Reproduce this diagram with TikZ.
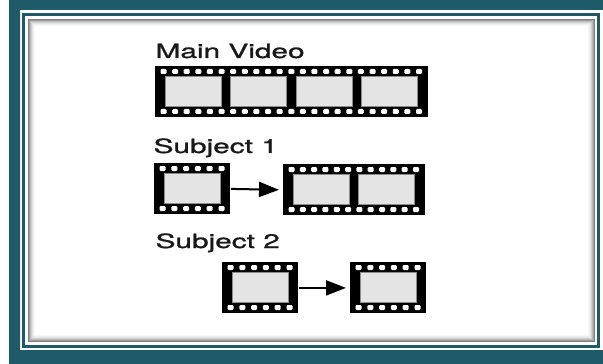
\documentclass[tikz,border=0pt]{standalone}
\usepackage{fontspec}
\setmainfont{TeX Gyre Heros}[AutoFakeBold=0.9]
\usetikzlibrary{calc,arrows.meta}

\definecolor{panelteal}{RGB}{31,90,105}
\definecolor{cellgray}{RGB}{228,228,228}

\tikzset{
  strip/.style={fill=black, inner sep=0pt, anchor=north west, minimum height=25.5pt},
  cell/.style={fill=cellgray, draw=black!45, line width=0.3pt},
  hole/.style={fill=white, rounded corners=0.6pt},
  caption/.style={font=\fontsize{9.8}{11}\selectfont\bfseries, text=black!90, anchor=base west, inner sep=0pt, xscale=1.52},
  link/.style={-{Triangle[length=10pt,width=7.5pt]}, line width=1pt, shorten >=2pt},
}

% film strip: name, number of frames, left x, top y
\newcommand{\filmstrip}[4]{%
  \pgfmathsetmacro{\filmw}{10.5+65.5*#2}
  \node[strip, minimum width=\filmw*0.5pt] (#1) at (#3,#4) {};
  % picture frames
  \foreach \k in {1,...,#2}
    \filldraw[cell] ($(#1.north west)+({10+65.5*(\k-1)},10.5)$) rectangle +(56,30);
  % sprocket holes
  \pgfmathsetmacro{\filmgaps}{int(round((\filmw-17)/11.6))}
  \pgfmathsetmacro{\filmstep}{(\filmw-17)/\filmgaps}
  \foreach \h in {0,...,\filmgaps} {
    \fill[hole] ($(#1.north west)+({5.5+\h*\filmstep},3)$) rectangle +(6,5);
    \fill[hole] ($(#1.north west)+({5.5+\h*\filmstep},43)$) rectangle +(6,5);
  }
}

\begin{document}
\begin{tikzpicture}[x=0.5pt,y=-0.5pt]
        \useasboundingbox (0,0) rectangle (603,363);
        \clip (0,0) rectangle (603,363);

        % outer band and thin line of the frame
        \fill[panelteal, even odd rule] (9,-10) rectangle (620,380) (20,10) rectangle (610,350);
        \draw[panelteal, line width=1.5pt] (23.5,14.5) rectangle (598.5,346.5);

        % inset shadow of the panel
        \foreach \i/\c in {0/50,1/38,2/27,3/18,4/11,5/6,6/3}
                \draw[black!\c, line width=0.5pt] (28.5+\i,19.5+\i) rectangle (594.5-\i,341.5-\i);

        % main video
        \node[caption] (main label) at (155,58) {Main Video};
        \filmstrip{main}{4}{155}{66}

        % subject 1
        \node[caption] (s1 label) at (153,153) {Subject 1};
        \filmstrip{s1a}{1}{154}{163}
        \filmstrip{s1b}{2}{283}{164}
        \draw[link] (s1a.east) -- (s1b.west);

        % subject 2
        \node[caption] (s2 label) at (155,248) {Subject 2};
        \filmstrip{s2a}{1}{222}{262}
        \filmstrip{s2b}{1}{350}{262}
        \draw[link] (s2a.east) -- (s2b.west);
\end{tikzpicture}
\end{document}
